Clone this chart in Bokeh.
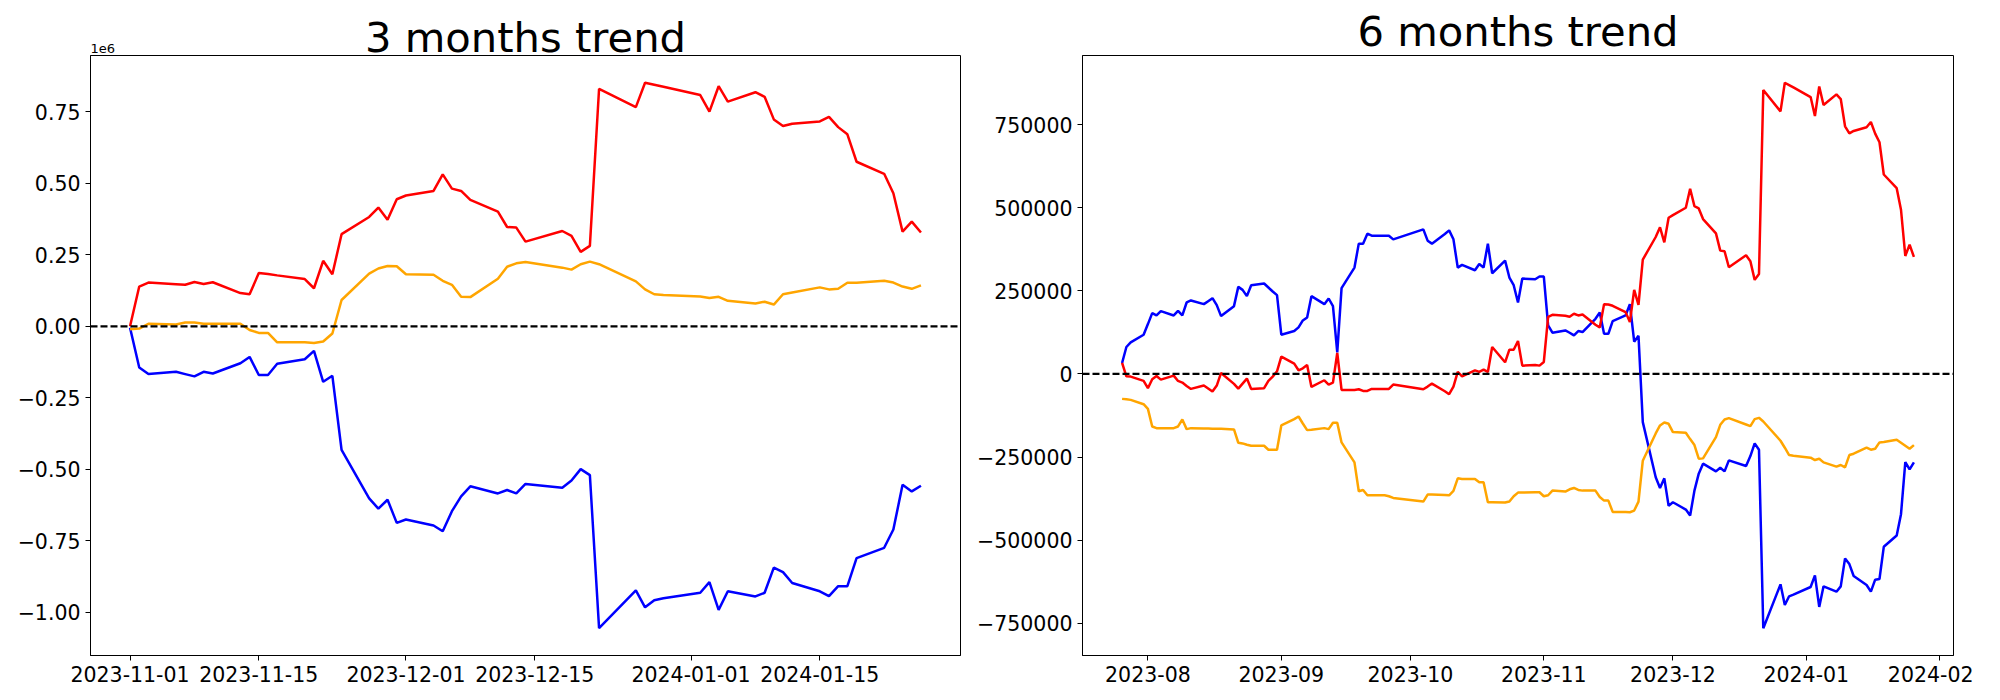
import pandas as pd
from bokeh.plotting import figure
from bokeh.models import (ColumnDataSource, Range1d, FixedTicker, DatetimeTickFormatter,
                          CustomJSTickFormatter, Span, Title)
from bokeh.layouts import row
from bokeh.embed import file_html
from bokeh.resources import INLINE

# ---------------- data: 3 months trend ----------------
days_3m = {
    "2023-11": [1, 2, 3, 6, 7, 8, 9, 10, 13, 14, 15, 16, 17, 20, 21, 22, 23, 24, 27, 28, 29, 30],
    "2023-12": [1, 4, 5, 6, 7, 8, 11, 12, 13, 14, 18, 19, 20, 21, 22, 26, 27, 28, 29],
    "2024-01": [2, 3, 4, 5, 8, 9, 10, 11, 12, 15, 16, 17, 18, 19, 22, 23, 24, 25, 26],
}
dates_3m = [f"{ym}-{d:02d}" for ym, ds in days_3m.items() for d in ds]

red_3m = [
    0, 139000, 153000, 147000, 145000, 155000, 148000, 154000, 116000, 112000, 186000,
    183000, 178000, 165000, 133000, 229000, 182000, 322000, 382000, 415000, 372000, 444000,
    457000, 473000, 531000, 481000, 473000, 442000, 401000, 347000, 345000, 296000,
    333000, 316000, 260000, 281000, 830000, 766000, 851000, 844000, 837000,
    808000, 750000, 839000, 785000, 818000, 802000, 723000, 700000, 708000, 716000,
    732000, 696000, 671000, 575000, 533000, 465000, 331000, 366000, 328000,
]
blue_3m = [
    -5000, -144000, -167000, -159000, -167000, -175000, -159000, -165000, -129000, -107000,
    -170000, -170000, -131000, -115000, -86000, -194000, -173000, -432000, -601000, -637000,
    -606000, -687000,
    -675000, -696000, -716000, -646000, -594000, -559000, -584000, -572000, -584000, -551000,
    -564000, -539000, -499000, -520000, -1055000, -923000, -982000, -957000, -950000,
    -931000, -894000, -991000, -926000, -944000, -931000, -843000, -859000, -897000, -926000,
    -943000, -908000, -908000, -810000, -774000, -710000, -554000, -577000, -557000,
]
orange_3m = [
    -10000, -8000, 9000, 6000, 13000, 13000, 9000, 9000, 9000, -13000, -23000, -23000,
    -56000, -56000, -58000, -53000, -25000, 92000, 184000, 202000, 211000, 210000,
    182000, 180000, 159000, 145000, 103000, 102000, 166000, 208000, 220000, 225000,
    205000, 198000, 217000, 226000, 217000, 157000, 129000, 112000, 109000,
    104000, 99000, 103000, 89000, 80000, 86000, 76000, 112000, 118000, 136000,
    129000, 131000, 152000, 152000, 159000, 153000, 139000, 131000, 143000,
]

# ---------------- data: 6 months trend ----------------
days_6m = {
    "2023-07": [26, 27, 28, 31],
    "2023-08": [1, 2, 3, 4, 7, 8, 9, 10, 11, 14, 15, 16, 17, 18, 21, 22, 23, 24, 25, 28, 29, 30, 31],
    "2023-09": [1, 4, 5, 6, 7, 8, 11, 12, 13, 14, 15, 18, 19, 20, 21, 22, 25, 26, 27],
    "2023-10": [4, 5, 6, 9, 10, 11, 12, 13, 16, 17, 18, 19, 20, 23, 24, 25, 26, 27, 30, 31],
    "2023-11": [1, 2, 3, 6, 7, 8, 9, 10, 13, 14, 15, 16, 17, 20, 21, 22, 23, 24, 27, 28, 29, 30],
    "2023-12": [1, 4, 5, 6, 7, 8, 11, 12, 13, 14, 18, 19, 20, 21, 22, 26, 27, 28, 29],
    "2024-01": [2, 3, 4, 5, 8, 9, 10, 11, 12, 15, 16, 17, 18, 19, 22, 23, 24, 25, 26],
}
dates_6m = [f"{ym}-{d:02d}" for ym, ds in days_6m.items() for d in ds]

red_6m = [
    33000, -7000, -8000, -21000,
    -43000, -16000, -6000, -17000, -5000, -21000, -26000, -36000, -45000, -35000, -44000,
    -53000, -35000, 3000, -30000, -44000, -29000, -14000, -45000, -43000, -21000, -8000, 8000,
    52000, 31000, 11000, 17000, 27000, -39000, -19000, -32000, -26000, 63000, -48000,
    -48000, -46000, -51000, -51000, -45000, -45000, -45000, -32000,
    -46000, -38000, -29000, -52000, -61000, -38000, 6000, -7000, 11000, 6000, 13000, 6000,
    81000, 35000, 73000, 73000, 99000, 25000, 27000, 25000,
    36000, 172000, 178000, 175000, 172000, 181000, 176000, 179000, 148000, 140000, 210000,
    209000, 205000, 186000, 156000, 253000, 208000, 344000, 412000, 441000, 396000, 470000,
    478000, 500000, 557000, 505000, 498000, 466000, 423000, 371000, 369000, 321000, 357000,
    339000, 283000, 301000, 854000, 790000, 876000, 869000, 862000,
    833000, 776000, 865000, 809000, 841000, 827000, 745000, 724000, 731000, 742000, 758000,
    723000, 697000, 600000, 559000, 494000, 355000, 389000, 352000,
]
blue_6m = [
    33000, 81000, 95000, 118000,
    150000, 183000, 176000, 189000, 176000, 190000, 176000, 215000, 221000, 210000, 219000,
    228000, 207000, 174000, 204000, 262000, 253000, 234000, 267000, 272000, 260000, 248000, 237000,
    118000, 129000, 140000, 161000, 170000, 234000, 210000, 227000, 204000, 65000, 258000,
    320000, 392000, 392000, 422000, 416000, 416000, 416000, 405000,
    435000, 401000, 392000, 421000, 432000, 405000, 320000, 328000, 312000, 331000, 320000,
    392000, 303000, 341000, 290000, 267000, 215000, 287000, 285000, 293000,
    293000, 146000, 124000, 131000, 124000, 116000, 129000, 126000, 166000, 185000, 121000,
    121000, 159000, 176000, 210000, 97000, 115000, -145000, -311000, -343000, -314000, -397000,
    -386000, -408000, -426000, -351000, -300000, -270000, -293000, -282000, -293000, -260000,
    -277000, -247000, -209000, -228000, -765000, -633000, -695000, -669000, -664000,
    -641000, -606000, -701000, -639000, -655000, -639000, -555000, -572000, -608000, -635000,
    -655000, -619000, -617000, -520000, -486000, -422000, -265000, -287000, -266000,
]
orange_6m = [
    -75000, -76000, -78000, -91000,
    -105000, -158000, -163000, -163000, -163000, -158000, -137000, -166000, -163000, -164000,
    -164000, -165000, -165000, -165000, -167000, -207000, -209000, -213000, -216000, -216000,
    -228000, -228000, -228000,
    -155000, -136000, -128000, -149000, -169000, -168000, -163000, -166000, -147000, -147000,
    -206000, -266000, -353000, -349000, -365000, -365000, -365000, -368000, -373000,
    -384000, -363000, -363000, -364000, -365000, -352000, -314000, -316000, -316000, -326000,
    -326000, -386000, -386000, -387000, -384000, -368000, -357000, -357000, -356000, -356000,
    -368000, -365000, -351000, -354000, -347000, -343000, -349000, -351000, -351000, -370000,
    -381000, -381000, -415000, -415000, -416000, -411000, -384000, -261000, -179000, -155000,
    -146000, -150000,
    -175000, -177000, -196000, -214000, -255000, -254000, -190000, -153000, -137000, -133000,
    -152000, -157000, -136000, -132000, -143000, -201000, -222000, -244000, -246000,
    -252000, -259000, -255000, -266000, -279000, -274000, -281000, -244000, -240000, -222000,
    -228000, -225000, -206000, -205000, -198000, -207000, -216000, -225000, -214000,
]

# ---------------- tick labels ----------------
xticks_3m = ["2023-11-01", "2023-11-15", "2023-12-01", "2023-12-15", "2024-01-01", "2024-01-15"]
xticks_6m = ["2023-08-01", "2023-09-01", "2023-10-01", "2023-11-01", "2023-12-01",
             "2024-01-01", "2024-02-01"]
yticks_3m = [-1000000, -750000, -500000, -250000, 0, 250000, 500000, 750000]
yticks_6m = [-750000, -500000, -250000, 0, 250000, 500000, 750000]

FONT = "DejaVu Sans"
TICK_SIZE = "20.5px"


def ms(s):
    return pd.Timestamp(s).timestamp() * 1000.0


def make_panel(title, dates, red, blue, orange, xticks, xfmt, yticks, ycode,
               frame_w, border_left, border_right, offset_text=None):
    assert len(dates) == len(red) == len(blue) == len(orange)
    x = pd.to_datetime(pd.Series(dates))
    src = ColumnDataSource(dict(x=x, red=red, blue=blue, orange=orange))
    vals = red + blue + orange
    ymin, ymax = min(vals), max(vals)
    ypad = 0.05 * (ymax - ymin)
    x0, x1 = ms(dates[0]), ms(dates[-1])
    xpad = 0.05 * (x1 - x0)
    p = figure(x_axis_type="datetime", frame_width=frame_w, frame_height=600,
               x_range=Range1d(x0 - xpad, x1 + xpad), y_range=Range1d(ymin - ypad, ymax + ypad),
               output_backend="svg", toolbar_location=None,
               min_border_left=border_left, min_border_right=border_right,
               min_border_top=55, min_border_bottom=30)
    p.background_fill_color = "white"
    p.border_fill_color = "white"
    p.outline_line_color = "black"
    p.outline_line_width = 1
    p.outline_line_alpha = 1
    p.grid.visible = False

    # offset text ("1e6") sits right on the frame; the big title stacks above it
    off_h = 0
    if offset_text:
        off = Title(text=offset_text, text_font=FONT, text_font_size="13px",
                    text_font_style="normal", text_color="black", align="left",
                    standoff=6)
        p.add_layout(off, "above")
        off_h = 23
    main = Title(text=title, text_font=FONT, text_font_size="41.7px",
                 text_font_style="normal", text_color="black", align="center",
                 standoff=-2 * off_h)
    p.add_layout(main, "above")

    p.line("x", "blue", source=src, line_color="blue", line_width=2.5)
    p.line("x", "red", source=src, line_color="red", line_width=2.5)
    p.line("x", "orange", source=src, line_color="orange", line_width=2.5)
    p.add_layout(Span(location=0, dimension="width", line_color="black",
                      line_width=2.2, line_dash="7 3"))

    p.xaxis.ticker = FixedTicker(ticks=[ms(t) for t in xticks])
    fields = ["microseconds", "milliseconds", "seconds", "minsec", "minutes",
              "hourmin", "hours", "days", "months", "years"]
    p.xaxis.formatter = DatetimeTickFormatter(**{f: xfmt for f in fields})
    p.yaxis.ticker = FixedTicker(ticks=yticks)
    p.yaxis.formatter = CustomJSTickFormatter(code=ycode)

    for ax in (p.xaxis, p.yaxis):
        ax.major_label_text_font = FONT
        ax.major_label_text_font_size = TICK_SIZE
        ax.major_label_text_color = "black"
        ax.axis_line_color = "black"
        ax.axis_line_width = 1
        ax.major_tick_line_color = "black"
        ax.major_tick_line_width = 1
        ax.major_tick_out = 5
        ax.major_tick_in = 0
        ax.minor_tick_out = 0
        ax.minor_tick_in = 0
        ax.major_label_standoff = 5
    return p


p1 = make_panel("3 months trend", dates_3m, red_3m, blue_3m, orange_3m,
                xticks_3m, "%Y-%m-%d", yticks_3m,
                "return (tick / 1e6).toFixed(2).replace('-', '\u2212');",
                frame_w=870, border_left=90, border_right=10, offset_text="1e6")
p2 = make_panel("6 months trend", dates_6m, red_6m, blue_6m, orange_6m,
                xticks_6m, "%Y-%m", yticks_6m,
                "return Math.round(tick).toString().replace('-', '\u2212');",
                frame_w=871, border_left=112, border_right=20)

layout = row(p1, p2)
open("out.html", "w").write(file_html(layout, INLINE))
